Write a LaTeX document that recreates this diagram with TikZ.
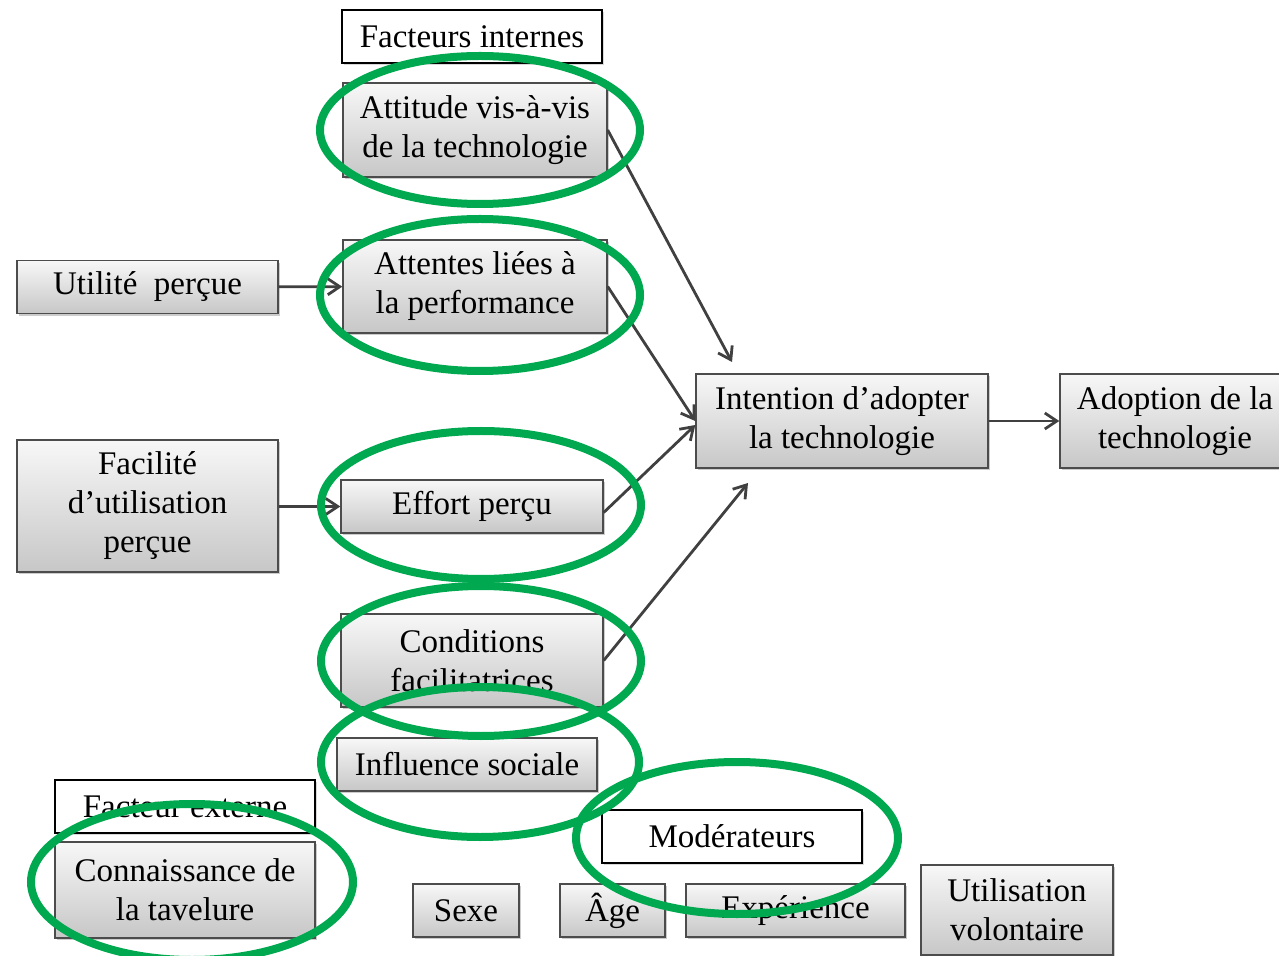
\documentclass[tikz,border=0pt]{standalone}
\usepackage{fontspec}
\setmainfont{Liberation Serif}
\usetikzlibrary{arrows.meta,shadows}
\definecolor{ringgreen}{RGB}{0,168,80}
\definecolor{arrowgray}{RGB}{64,64,64}

\begin{document}
\begin{tikzpicture}[
  x=0.5pt, y=-0.5pt,
  font=\fontsize{16.5}{19.5}\selectfont,
  factor/.style={rectangle, draw=black!70, line width=0.7pt, top color=black!3, bottom color=black!22, drop shadow={shadow xshift=1.2pt, shadow yshift=-1.2pt, fill=black!40}, inner sep=1pt, align=center, minimum height=26.5pt},
  headbox/.style={rectangle, draw=black, line width=1.4pt, fill=white, inner sep=1pt, align=center, minimum width=130pt, minimum height=26.5pt, drop shadow={shadow xshift=1pt, shadow yshift=-1pt, fill=black!30}},
  arrow/.style={-{Straight Barb[length=6pt,width=8pt]}, line width=1.4pt, arrowgray},
  ring/.style={draw=ringgreen, line width=4pt},
]
\useasboundingbox (0,0) rectangle (1279,956);
\clip (0,0) rectangle (1279,956);

\node[headbox] (h-int) at (472,36.5) {Facteurs internes};
\node[factor, minimum width=132pt, minimum height=47pt] (f-att) at (475,130) {Attitude vis-à-vis\\de la technologie};
\node[factor, minimum width=130.5pt] (f-util) at (147.5,287) {Utilité~ perçue};
\node[factor, minimum width=132pt, minimum height=46.5pt] (f-perf) at (475,286.5) {Attentes liées à\\la performance};
\node[factor, minimum width=130.5pt, minimum height=66pt] (f-fac) at (147.5,506) {Facilité\\d’utilisation\\perçue};
\node[factor, minimum width=131pt] (f-eff) at (472,506.5) {Effort perçu};
\node[factor, minimum width=131pt, minimum height=46.5pt] (f-cond) at (472,660.5) {Conditions\\facilitatrices};
\node[factor, minimum width=130pt] (f-soc) at (467,764.5) {Influence sociale};
\node[headbox] (h-ext) at (185,806.5) {Facteur externe};
\node[factor, minimum width=130pt, minimum height=48pt] (f-tav) at (185,890) {Connaissance de\\la tavelure};
\node[factor, minimum width=146pt, minimum height=47pt] (f-int) at (842,421) {Intention d’adopter\\la technologie};
\node[factor, minimum width=115pt, minimum height=47pt] (f-adop) at (1175,421) {Adoption de la\\technologie};
\node[headbox] (h-mod) at (732,836.5) {Modérateurs};
\node[factor, minimum width=53pt] (m-sex) at (466,910.5) {Sexe};
\node[factor, minimum width=52.5pt] (m-age) at (612.5,910.5) {Âge};
\node[factor, minimum width=109.5pt] (m-exp) at (795.5,910.5) {Expérience};
\node[factor, minimum width=96pt, minimum height=45pt] (m-vol) at (1017,910) {Utilisation\\volontaire};

\coordinate (in-att) at (732,362);
\coordinate (in-cond) at (748,483);

\draw[arrow] (f-util) -- (f-perf);
\draw[arrow] (f-fac.east |- f-eff) -- (f-eff);
\draw[arrow] (f-att.east) -- (in-att);
\draw[arrow] (f-perf.east) -- (f-int.west);
\draw[arrow] ([yshift=-3pt]f-eff.east) -- ([yshift=-2pt]f-int.west);
\draw[arrow] (f-cond.east) -- (in-cond);
\draw[arrow] (f-int) -- (f-adop);

\draw[ring] (480,130) ellipse [x radius=160, y radius=74];
\draw[ring] (480,295) ellipse [x radius=160, y radius=76];
\draw[ring] (481,505) ellipse [x radius=160, y radius=74];
\draw[ring] (481,661) ellipse [x radius=160, y radius=75];
\draw[ring] (480,762) ellipse [x radius=159, y radius=75];
\draw[ring] (737,838) ellipse [x radius=161, y radius=76];
\draw[ring] (192,882) ellipse [x radius=161, y radius=78];

\end{tikzpicture}
\end{document}
